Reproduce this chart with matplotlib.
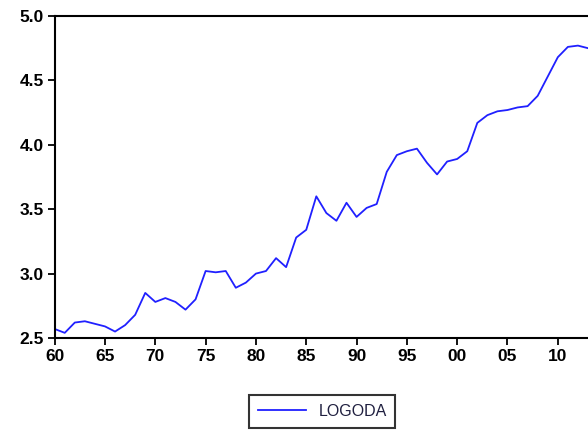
import numpy as np
import matplotlib
matplotlib.use("Agg")
import matplotlib.pyplot as plt

# annual series, 1960-2013
years = np.arange(1960, 2014)
logoda = [2.57, 2.54, 2.62, 2.63, 2.61, 2.59, 2.55, 2.60, 2.68, 2.85,
          2.78, 2.81, 2.78, 2.72, 2.80, 3.02, 3.01, 3.02, 2.89, 2.93,
          3.00, 3.02, 3.12, 3.05, 3.28, 3.34, 3.60, 3.47, 3.41, 3.55,
          3.44, 3.51, 3.54, 3.79, 3.92, 3.95, 3.97, 3.86, 3.77, 3.87,
          3.89, 3.95, 4.17, 4.23, 4.26, 4.27, 4.29, 4.30, 4.38, 4.53,
          4.68, 4.76, 4.77, 4.75]
xticks = np.arange(1960, 2011, 5)
xlabels = ['%02d' % (y % 100) for y in xticks]
yticks = [2.5, 3.0, 3.5, 4.0, 4.5, 5.0]

plt.rcParams['font.family'] = ['Liberation Sans', 'DejaVu Sans']

fig = plt.figure(figsize=(5.88, 4.32), dpi=100)
ax = fig.add_axes([0.093, 0.2176, 0.907, 0.7454])

ax.plot(years, logoda, color='#2020ff', lw=1.3, label='LOGODA')

ax.set_xlim(1960, 2013)
ax.set_ylim(2.5, 5.0)
ax.set_xticks(xticks)
ax.set_xticklabels(xlabels)
ax.set_yticks(yticks)
ax.set_yticklabels(['%.1f' % v for v in yticks])
ax.tick_params(axis='both', direction='out', length=5, width=1.3,
               labelsize=12.5, pad=3)
for lab in ax.get_xticklabels() + ax.get_yticklabels():
    lab.set_fontweight('bold')

for side in ['left', 'bottom', 'top']:
    ax.spines[side].set_linewidth(1.5)
ax.spines['right'].set_visible(False)

# legend box centred under the plot
leg = fig.legend(loc='center', bbox_to_anchor=(0.548, 0.048),
                 bbox_transform=fig.transFigure,
                 frameon=True, fancybox=False, fontsize=11.5,
                 handlelength=3.0, borderpad=0.55, handletextpad=0.8)
leg.get_frame().set_edgecolor('black')
leg.get_frame().set_linewidth(1.5)
for t in leg.get_texts():
    t.set_color('#202040')

fig.savefig('out.png', dpi=100)
